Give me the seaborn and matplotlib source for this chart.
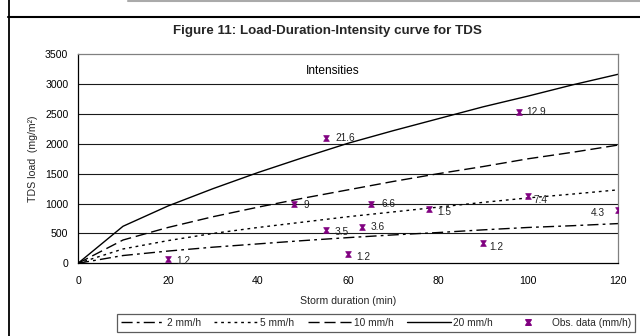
import matplotlib
matplotlib.use("Agg")
import matplotlib.pyplot as plt
from matplotlib.lines import Line2D
from matplotlib.path import Path
import seaborn as sns
import pandas as pd

# ---- data ----
durations = [0, 10, 20, 30, 40, 50, 60, 70, 80, 90, 100, 110, 120]
load_2mm = [0, 130, 205, 270, 325, 380, 430, 475, 515, 560, 600, 630, 665]
load_5mm = [0, 240, 380, 500, 600, 690, 780, 860, 940, 1020, 1095, 1160, 1230]
load_10mm = [0, 390, 600, 780, 940, 1090, 1230, 1370, 1500, 1620, 1750, 1860, 1980]
load_20mm = [0, 620, 960, 1250, 1520, 1770, 2010, 2220, 2420, 2620, 2800, 2990, 3165]
series_names = ["2 mm/h", "5 mm/h", "10 mm/h", "20 mm/h"]

obs_x = [20, 48, 55, 55, 60, 63, 65, 78, 90, 98, 100, 120]
obs_y = [70, 1000, 2100, 560, 160, 600, 1000, 905, 340, 2530, 1120, 890]
obs_lbl = ["1.2", "9", "21.6", "3.5", "1.2", "3.6", "6.6", "1.5", "1.2", "12.9", "7.4", "4.3"]

x_ticks = [0, 20, 40, 60, 80, 100, 120]
y_ticks = [0, 500, 1000, 1500, 2000, 2500, 3000, 3500]

# ---- style ----
sns.set_theme(style="white")
plt.rcParams["font.family"] = ["Liberation Sans", "DejaVu Sans"]

fig = plt.figure(figsize=(6.4, 3.36), dpi=100)
ax = fig.add_axes([78 / 640, 1 - 263.3 / 336, 540 / 640, 209 / 336])

df = pd.DataFrame({
    "duration": durations * 4,
    "load": load_2mm + load_5mm + load_10mm + load_20mm,
    "series": sum([[n] * len(durations) for n in series_names], []),
})
dash_map = {
    "2 mm/h": (8, 3, 2, 3),
    "5 mm/h": (2, 2.8),
    "10 mm/h": (8, 3.5),
    "20 mm/h": "",
}
sns.lineplot(data=df, x="duration", y="load", style="series", dashes=dash_map,
             color="black", linewidth=1.0, ax=ax, legend=False)

# custom hourglass-x marker
verts = [(-1, 1), (1, 1), (0.3, 0), (1, -1), (-1, -1), (-0.3, 0), (-1, 1)]
codes = [Path.MOVETO] + [Path.LINETO] * 5 + [Path.CLOSEPOLY]
hg = Path(verts, codes)
obs_df = pd.DataFrame({"x": obs_x, "y": obs_y})
sns.scatterplot(data=obs_df, x="x", y="y", marker=hg, s=17, color="#800080",
                edgecolor="#800080", linewidth=0.5, ax=ax, zorder=5, legend=False)

offsets = {
    0: (8, -2), 1: (10, -1), 2: (10, 0), 3: (9, -2), 4: (8, -3), 5: (9, 0),
    6: (11, 0), 7: (8, -3), 8: (6, -4), 9: (7, 0), 10: (6, -4),
}
for i, (xv, yv, lb) in enumerate(zip(obs_x, obs_y, obs_lbl)):
    if i == 11:
        ax.annotate(lb, (xv, yv), xytext=(-13 * 0.72, -3 * 0.72), textcoords="offset points",
                    ha="right", va="center", fontsize=7.3, color="#222222")
    else:
        dx, dy = offsets[i]
        ax.annotate(lb, (xv, yv), xytext=(dx * 0.72, dy * 0.72), textcoords="offset points",
                    ha="left", va="center", fontsize=7.3, color="#222222")

ax.text(56.7, 3226, "Intensities", ha="center", va="center", fontsize=8.6, color="black")

ax.set_xlim(0, 120)
ax.set_ylim(0, 3500)
ax.set_xticks(x_ticks)
ax.set_yticks(y_ticks)
ax.tick_params(axis="both", direction="out", length=4, width=0.8, labelsize=7.6,
               color="black", labelcolor="black", pad=3)
ax.tick_params(axis="x", pad=5)
for yv in y_ticks[1:-1]:
    ax.axhline(yv, color="#1a1a1a", lw=0.8, zorder=0)
ax.spines["left"].set_color("black")
ax.spines["bottom"].set_color("black")
ax.spines["top"].set_color("#808080")
ax.spines["right"].set_color("#808080")
for s in ax.spines.values():
    s.set_linewidth(0.9)
ax.set_xlabel("Storm duration (min)", fontsize=7.6, labelpad=7)
ax.set_ylabel("TDS load  (mg/m²)", fontsize=7.6, labelpad=5)

fig.text(327 / 640, 1 - 31 / 336, "Figure 11: Load-Duration-Intensity curve for TDS",
         ha="center", va="center", fontsize=9.6, fontweight="bold")

# legend
handles = [
    Line2D([], [], color="black", lw=1.0, dashes=dash_map["2 mm/h"]),
    Line2D([], [], color="black", lw=1.0, dashes=dash_map["5 mm/h"]),
    Line2D([], [], color="black", lw=1.0, dashes=dash_map["10 mm/h"]),
    Line2D([], [], color="black", lw=1.0),
    Line2D([], [], color="#800080", marker=hg, markersize=4, linestyle="none"),
]
labels = series_names + ["Obs. data (mm/h)"]
leg = fig.legend(handles, labels, loc="center", bbox_to_anchor=(376 / 640, 1 - 323 / 336),
                 ncol=5, fontsize=7.3, frameon=True, fancybox=False, handlelength=4.4,
                 handletextpad=0.15, columnspacing=1.3, borderpad=0.35, borderaxespad=0)
leg.get_frame().set_edgecolor("#333333")
leg.get_frame().set_linewidth(0.9)

# outer frame
fig.add_artist(Line2D([8.5 / 640, 8.5 / 640], [0, 1], color="black", lw=1.3, transform=fig.transFigure))
fig.add_artist(Line2D([8 / 640, 1], [1 - 17 / 336, 1 - 17 / 336], color="black", lw=1.5, transform=fig.transFigure))
fig.add_artist(Line2D([128 / 640, 1], [1 - 1 / 336, 1 - 1 / 336], color="#aaaaaa", lw=1.5, transform=fig.transFigure))

fig.savefig("out.png", dpi=100)
